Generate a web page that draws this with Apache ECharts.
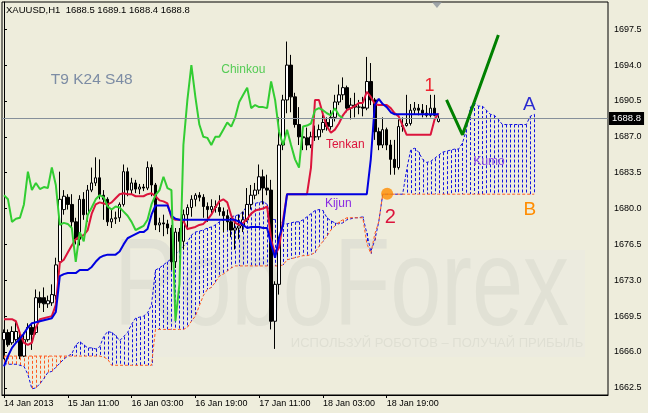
<!DOCTYPE html>
<html><head><meta charset="utf-8">
<script src="https://cdn.jsdelivr.net/npm/echarts@6.0.0/dist/echarts.min.js"></script>
<style>html,body{margin:0;padding:0;background:#EEEDDC}#c{width:648px;height:413px}</style>
</head><body><div id="c"></div>
<script>
// ---------- data ----------
const headerText = 'XAUUSD,H1  1688.5 1689.1 1688.4 1688.8';
const xTickIndex = [0, 16, 32, 48, 64, 80, 96];
const xTickLabels = ['14 Jan 2013', '15 Jan 11:00', '16 Jan 03:00', '16 Jan 19:00', '17 Jan 11:00', '18 Jan 03:00', '18 Jan 19:00'];
const yTickValues = [1662.5, 1666.0, 1669.5, 1673.0, 1676.5, 1680.0, 1683.5, 1687.0, 1690.5, 1694.0, 1697.5];
const bidPrice = 1688.8;

const open = [
1667.2,1667.9,1666.9,1667.2,1667.4,1665.6,1667.2,1668.4,1667.9,1671.3,
1671.3,1670.7,1670.8,1671.5,1674.8,1679.9,1681.1,1680.4,1678.7,1677.0,
1680.9,1679.4,1681.8,1682.5,1683.0,1681.3,1680.9,1678.7,1679.0,1679.1,
1680.4,1683.6,1681.8,1682.5,1681.9,1682.1,1682.0,1684.0,1682.3,1678.4,
1678.6,1678.5,1678.1,1674.8,1677.7,1676.8,1679.4,1680.1,1680.9,1681.3,
1681.1,1680.2,1679.9,1680.2,1680.1,1679.7,1679.3,1678.7,1677.9,1678.1,
1678.3,1678.9,1680.4,1681.3,1681.8,1683.1,1682.0,1681.8,1669.0,1672.6,
1686.2,1690.6,1694.0,1690.9,1688.2,1687.0,1686.9,1686.2,1687.0,1687.0,
1687.7,1688.4,1688.0,1688.9,1690.4,1691.1,1691.8,1689.8,1690.1,1689.9,
1689.9,1689.8,1692.4,1690.6,1687.5,1686.2,1687.7,1686.2,1684.8,1684.0,
1688.0,1688.1,1688.3,1689.6,1689.8,1689.6,1689.3,1689.1,1689.8,1688.5];
const high = [
1668.2,1668.2,1668.5,1668.9,1667.8,1667.9,1668.8,1668.7,1672.1,1671.9,
1672.3,1671.5,1672.6,1675.2,1683.6,1681.8,1681.4,1681.4,1679.1,1681.3,
1681.6,1682.3,1684.0,1685.0,1684.8,1681.8,1681.1,1679.9,1679.7,1680.6,
1684.3,1684.0,1683.0,1682.8,1682.4,1682.4,1684.6,1684.3,1682.5,1679.1,
1679.4,1678.9,1678.4,1678.1,1678.1,1679.9,1680.4,1681.3,1681.5,1681.6,
1681.4,1680.6,1680.9,1680.8,1681.3,1680.1,1679.9,1679.1,1678.9,1679.4,
1679.7,1682.0,1682.3,1682.5,1684.3,1683.8,1683.3,1682.8,1672.9,1688.9,
1691.1,1696.3,1695.0,1691.3,1689.9,1687.7,1687.9,1687.5,1688.1,1688.2,
1689.4,1688.9,1689.6,1691.1,1692.1,1692.8,1692.0,1690.8,1691.3,1690.6,
1690.9,1694.8,1694.2,1690.8,1687.9,1688.9,1687.9,1686.7,1686.7,1688.7,
1688.9,1691.1,1690.2,1690.4,1690.2,1690.2,1690.1,1691.1,1691.1,1689.1];
const low = [
1665.3,1666.5,1666.7,1667.0,1665.3,1665.5,1667.0,1666.2,1667.7,1670.3,
1669.9,1670.3,1670.5,1671.1,1674.2,1679.4,1679.9,1678.1,1676.5,1676.4,
1678.9,1678.7,1681.6,1682.2,1680.9,1678.9,1678.3,1678.1,1678.5,1678.7,
1680.2,1681.2,1681.4,1681.5,1681.4,1681.7,1681.8,1681.2,1677.9,1677.7,
1677.3,1677.5,1674.0,1674.2,1675.8,1676.0,1677.9,1679.2,1680.2,1680.7,
1679.1,1678.7,1679.5,1679.6,1679.3,1677.7,1677.9,1677.2,1676.0,1677.0,
1677.7,1678.7,1679.9,1680.9,1681.4,1680.4,1681.3,1668.2,1666.3,1671.6,
1685.7,1689.3,1689.4,1687.9,1686.2,1685.7,1685.7,1685.9,1686.6,1686.7,
1687.4,1687.6,1687.7,1688.5,1690.1,1690.6,1689.4,1688.7,1688.9,1689.2,
1689.0,1689.6,1690.1,1686.7,1685.7,1685.9,1685.7,1683.3,1683.3,1683.8,
1687.5,1688.0,1688.1,1689.2,1689.1,1688.9,1688.9,1688.9,1689.0,1688.4];
const close = [
1667.9,1666.7,1668.0,1668.0,1665.6,1667.2,1668.4,1667.7,1671.3,1670.8,
1670.7,1671.0,1671.6,1674.5,1680.9,1681.2,1680.4,1678.7,1677.0,1680.9,
1679.4,1681.8,1682.5,1683.0,1681.3,1680.9,1678.7,1679.0,1679.1,1680.4,
1683.6,1681.8,1682.5,1681.9,1682.1,1682.0,1684.0,1682.3,1678.4,1678.6,
1678.5,1678.1,1674.8,1677.7,1676.8,1679.4,1680.1,1680.9,1681.3,1681.1,
1680.2,1679.9,1680.2,1680.1,1679.7,1679.3,1678.7,1677.9,1678.1,1678.3,
1678.9,1680.4,1681.3,1681.8,1683.1,1682.0,1681.8,1669.0,1672.6,1686.2,
1690.6,1694.0,1690.9,1688.2,1687.0,1686.9,1686.2,1687.0,1687.0,1687.7,
1688.4,1688.0,1688.9,1690.4,1691.1,1691.8,1689.8,1690.1,1689.9,1689.9,
1689.8,1692.4,1690.6,1687.5,1686.2,1687.7,1686.2,1684.8,1684.0,1688.0,
1688.1,1688.3,1689.6,1689.8,1689.6,1689.3,1689.1,1689.8,1689.1,1688.8];

const tenkan = [
1669.2,1669.2,1669.2,1669.0,1667.8,1666.9,1666.7,1666.9,1668.4,1669.2,
1669.3,1669.4,1669.5,1670.6,1674.7,1675.0,1675.7,1676.4,1677.0,1677.3,
1677.4,1677.9,1679.5,1680.4,1680.6,1680.5,1680.4,1680.6,1681.0,1681.4,
1681.5,1681.4,1681.4,1681.2,1681.2,1681.2,1681.4,1681.5,1681.2,1680.8,
1680.7,1680.5,1679.1,1678.9,1678.9,1678.8,1678.0,1678.1,1678.2,1678.4,
1678.5,1678.9,1679.4,1680.1,1680.7,1680.9,1680.6,1679.3,1678.6,1678.4,
1678.6,1679.0,1679.5,1679.8,1679.9,1680.0,1680.2,1677.0,1675.5,1676.2,
1678.9,1681.4,1681.4,1681.4,1681.4,1681.4,1681.4,1684.0,1690.6,1690.6,
1689.2,1688.0,1687.4,1687.7,1688.3,1689.1,1689.6,1689.8,1690.0,1690.3,
1690.3,1691.4,1690.9,1690.2,1690.1,1690.1,1690.1,1689.8,1689.3,1689.0,
1688.1,1687.2,1687.2,1687.2,1687.2,1687.2,1687.2,1687.2,1688.7,1689.3];
const kijun = [
1664.6,1665.6,1666.4,1666.9,1667.3,1667.8,1668.4,1668.8,1668.9,1669.0,
1669.1,1669.2,1669.3,1669.9,1673.4,1673.6,1673.7,1673.7,1673.7,1674.0,
1674.0,1674.0,1674.3,1674.8,1675.2,1675.4,1675.5,1675.5,1675.5,1675.8,
1676.5,1677.1,1677.3,1677.5,1677.7,1677.7,1678.0,1679.4,1680.3,1680.3,
1680.3,1680.3,1679.3,1679.0,1678.9,1678.9,1678.9,1678.9,1678.9,1678.9,
1678.9,1678.9,1678.9,1678.9,1678.9,1678.9,1678.9,1678.9,1678.9,1678.7,
1678.4,1678.1,1678.2,1678.2,1678.2,1678.1,1678.1,1676.5,1675.2,1677.2,
1678.4,1681.4,1681.4,1681.4,1681.4,1681.4,1681.4,1681.4,1681.4,1681.4,
1681.4,1681.4,1681.4,1681.4,1681.4,1681.4,1681.4,1681.4,1681.4,1681.4,
1681.4,1681.4,1684.8,1690.1,1690.7,1690.2,1689.9,1689.4,1689.2,1689.2,
1689.2,1689.2,1689.2,1689.2,1689.2,1689.2,1689.2,1689.2,1689.2,1689.2];
const chinkou = [
1681.3,1680.9,1678.7,1679.0,1679.1,1680.4,1683.6,1681.8,1682.5,1681.9,
1682.1,1682.0,1684.0,1682.3,1678.4,1678.6,1678.5,1678.1,1674.8,1677.7,
1676.8,1679.4,1680.1,1680.9,1681.3,1681.1,1680.2,1679.9,1680.2,1680.1,
1679.7,1679.3,1678.7,1677.9,1678.1,1678.3,1678.9,1680.4,1681.3,1681.8,
1683.1,1682.0,1681.8,1669.0,1672.6,1686.2,1690.6,1694.0,1690.9,1688.2,
1687.0,1686.9,1686.2,1687.0,1687.0,1687.7,1688.4,1688.0,1688.9,1690.4,
1691.1,1691.8,1689.8,1690.1,1689.9,1689.9,1689.8,1692.4,1690.6,1687.5,
1686.2,1687.7,1686.2,1684.8,1684.0,1688.0,1688.1,1688.3,1689.6,1689.8,
1689.6,1689.3,1689.1,1689.8,1689.1,1688.8];
const senkouA = [
1664.9,1664.8,1664.8,1664.8,1664.7,1664.6,1663.8,1662.4,1662.5,1662.9,
1663.4,1664.0,1664.1,1664.5,1664.9,1665.3,1665.6,1665.8,1666.7,1667.0,
1666.7,1666.4,1666.4,1666.3,1666.5,1667.5,1668.0,1667.9,1667.6,1667.1,
1667.5,1667.9,1668.7,1669.3,1669.4,1669.5,1669.8,1670.6,1674.0,1674.2,
1674.5,1674.8,1675.1,1675.5,1675.9,1676.3,1676.7,1677.4,1677.7,1677.8,
1677.9,1678.1,1678.2,1678.4,1678.7,1678.9,1679.0,1679.2,1679.3,1679.4,
1679.7,1680.3,1680.6,1680.5,1680.6,1680.7,1680.4,1679.0,1678.9,1678.9,
1678.5,1678.5,1678.6,1678.7,1678.7,1678.9,1679.2,1679.5,1679.8,1679.9,
1679.8,1679.1,1678.8,1678.6,1678.5,1678.6,1678.9,1679.0,1679.1,1679.1,
1679.2,1677.6,1675.8,1676.9,1678.7,1681.4,1681.4,1681.4,1681.4,1681.4,
1681.4,1683.8,1685.7,1685.9,1685.5,1684.8,1684.5,1684.6,1684.9,1685.2,
1685.5,1685.6,1685.7,1685.8,1685.8,1686.4,1687.7,1689.9,1690.3,1690.0,
1690.0,1689.6,1689.2,1689.1,1688.7,1688.2,1688.2,1688.2,1688.2,1688.2,
1688.2,1688.2,1689.0,1689.2];
const senkouB = [
1665.6,1665.6,1665.6,1665.6,1665.6,1665.6,1665.6,1665.6,1665.6,1665.6,
1665.6,1665.6,1665.6,1665.6,1665.6,1665.6,1665.6,1665.6,1665.6,1665.6,
1665.6,1665.6,1665.6,1665.6,1665.6,1665.5,1665.3,1664.7,1664.7,1664.7,
1664.7,1664.7,1664.7,1664.7,1664.7,1664.7,1664.7,1664.7,1668.2,1668.2,
1668.2,1668.2,1668.2,1668.2,1668.2,1668.2,1668.4,1669.0,1669.5,1670.5,
1671.5,1672.1,1672.3,1672.8,1673.4,1673.6,1673.9,1674.2,1674.4,1674.4,
1674.4,1674.4,1674.4,1674.4,1674.4,1674.4,1674.4,1674.4,1674.4,1674.4,
1674.5,1675.0,1675.1,1675.2,1675.3,1675.4,1675.4,1675.5,1675.7,1676.3,
1676.8,1677.3,1677.9,1678.3,1678.7,1678.9,1679.1,1679.1,1679.1,1679.1,
1679.1,1676.6,1675.6,1677.5,1678.7,1681.4,1681.4,1681.4,1681.4,1681.4,
1681.4,1681.4,1681.4,1681.4,1681.4,1681.4,1681.4,1681.4,1681.4,1681.4,
1681.4,1681.4,1681.4,1681.4,1681.4,1681.4,1681.4,1681.4,1681.4,1681.4,
1681.4,1681.4,1681.4,1681.4,1681.4,1681.4,1681.4,1681.4,1681.4,1681.4,
1681.4,1681.4,1681.4,1681.4];

// hand-drawn forecast (bar index, price)
const forecastIdx = [111, 115, 124];
const forecastPrice = [1690.6, 1687.2, 1696.95];
// marked point "2"
const markIdx = 96.1, markPrice = 1681.45;

// ---------- layout / style ----------
const Y_MIN = 1661.80, Y_MAX = 1700.16;
const N_CAT = 152;
const BG = '#EEEDDC';
const FONT = 'Liberation Sans';
const notes = [
  {t: 'T9 K24 S48', x: 11.75, y: 1692.56, c: '#7C8CA4', s: 15.5, a: 'left'},
  {t: 'Chinkou', x: 54.5, y: 1693.58, c: '#55CC55', s: 12, a: 'left'},
  {t: 'Tenkan', x: 80.75, y: 1686.22, c: '#DC143C', s: 12, a: 'left'},
  {t: 'Kijun', x: 80.5, y: 1680.52, c: '#8A2BE2', s: 12, a: 'left'},
  {t: 'Kumo', x: 117.75, y: 1684.56, c: '#8A4AE2', s: 12, a: 'left'},
  {t: '1', x: 106.75, y: 1691.92, c: '#EE2430', s: 18, a: 'center'},
  {t: '2', x: 96.9, y: 1679.11, c: '#DC143C', s: 20, a: 'center'},
  {t: 'A', x: 131.75, y: 1690.12, c: '#2A2AD0', s: 19, a: 'center'},
  {t: 'B', x: 131.9, y: 1679.89, c: '#FF8C00', s: 19, a: 'center'}
];

const cats = [];
for (let i = 0; i < N_CAT; i++) cats.push(String(i));
const tickMap = {};
xTickIndex.forEach((v, k) => { tickMap[v] = xTickLabels[k]; });

const chart = echarts.init(document.getElementById('c'), null, {renderer: 'canvas'});
chart.setOption({
  animation: false,
  backgroundColor: BG,
  textStyle: {fontFamily: FONT},
  title: {text: headerText, left: 6, top: 5, padding: 0,
    textStyle: {fontFamily: FONT, fontSize: 9.5, fontWeight: 'normal', color: '#000'}},
  grid: {left: 2, right: 40, top: 2, bottom: 18, show: true, borderColor: '#000', borderWidth: 1, backgroundColor: 'transparent'},
  graphic: [
    {type: 'rect', z: 0, silent: true, shape: {x: 50, y: 250, width: 535, height: 107}, style: {fill: '#ECEBDF'}},
    {type: 'text', z: 0, silent: true, x: 114, y: 291, scaleX: 0.736,
      style: {text: 'RoboForex', fontSize: 125, fontFamily: FONT, fill: '#E1E1D5', align: 'left', verticalAlign: 'middle'}},
    {type: 'text', z: 0, silent: true, x: 437, y: 343,
      style: {text: 'ИСПОЛЬЗУЙ РОБОТОВ – ПОЛУЧАЙ ПРИБЫЛЬ', fontSize: 13, fontFamily: FONT, fill: '#DFDFD3', align: 'center', verticalAlign: 'middle'}}
  ],
  xAxis: [
    {type: 'category', data: cats, boundaryGap: true,
      axisLine: {show: true, lineStyle: {color: '#000'}},
      axisTick: {show: true, alignWithLabel: true, length: 3, interval: (i) => tickMap[i] !== undefined, lineStyle: {color: '#000'}},
      axisLabel: {interval: (i) => tickMap[i] !== undefined, formatter: (v, i) => tickMap[i] || '',
        align: 'left', margin: 4, fontSize: 9, fontFamily: FONT, color: '#000'},
      splitLine: {show: false}},
    {type: 'value', min: -0.5, max: N_CAT - 0.5, show: false, gridIndex: 0}
  ],
  yAxis: {type: 'value', position: 'right', min: Y_MIN, max: Y_MAX,
    axisLine: {show: true, lineStyle: {color: '#000'}},
    axisTick: {show: true, customValues: yTickValues, length: 3, lineStyle: {color: '#000'}},
    axisLabel: {customValues: yTickValues, formatter: (v) => v.toFixed(1), margin: 6, fontSize: 9, fontFamily: FONT, color: '#000'},
    splitLine: {show: false}},
  series: [
    {type: 'custom', name: 'kumo', z: 1, silent: true, xAxisIndex: 0,
      data: senkouA.map((a, i) => [i, a, senkouB[i]]),
      encode: {x: 0, y: [1, 2]},
      renderItem: (params, api) => {
        const i = api.value(0), a = api.value(1), b = api.value(2);
        const pa = api.coord([i, a]), pb = api.coord([i, b]);
        const x = Math.round(pa[0]) + 0.5;
        return {type: 'line', shape: {x1: x, y1: pa[1], x2: x, y2: pb[1]},
          style: {stroke: a >= b ? '#1212E0' : '#FF5A1F', lineWidth: 1, lineDash: [3, 2]}};
      }},
    {type: 'line', name: 'Senkou A', z: 2, data: senkouA, showSymbol: false, symbol: 'none', silent: true,
      lineStyle: {color: '#1212E0', width: 1, type: [3, 2]}},
    {type: 'line', name: 'Senkou B', z: 2, data: senkouB, showSymbol: false, symbol: 'none', silent: true,
      lineStyle: {color: '#FF5A1F', width: 1, type: [3, 2]}},
    {type: 'candlestick', name: 'XAUUSD', z: 3, barWidth: 3, silent: true,
      data: open.map((o, i) => [o, close[i], low[i], high[i]]),
      itemStyle: {color: '#FFFFFF', color0: '#000000', borderColor: '#000000', borderColor0: '#000000', borderColorDoji: '#000000', borderWidth: 1},
      markLine: {silent: true, symbol: 'none', animation: false,
        data: [{yAxis: bidPrice}],
        lineStyle: {color: '#86909A', width: 1, type: 'solid'},
        label: {show: true, position: 'end', formatter: bidPrice.toFixed(1), distance: 1,
          backgroundColor: '#000', color: '#fff', padding: [2, 3, 1, 3], fontSize: 9.5, fontFamily: FONT}}},
    {type: 'line', name: 'Tenkan', z: 4, data: tenkan, showSymbol: false, symbol: 'none', silent: true,
      lineStyle: {color: '#DC143C', width: 2}},
    {type: 'line', name: 'Kijun', z: 4, data: kijun, showSymbol: false, symbol: 'none', silent: true,
      lineStyle: {color: '#0000E0', width: 2}},
    {type: 'line', name: 'Chinkou', z: 4, data: chinkou, showSymbol: false, symbol: 'none', silent: true,
      lineStyle: {color: '#32CD32', width: 2}},
    {type: 'line', name: 'forecast', z: 5, xAxisIndex: 1, silent: true, showSymbol: false, symbol: 'none',
      data: forecastIdx.map((x, k) => [x, forecastPrice[k]]),
      lineStyle: {color: '#008000', width: 3}},
    {type: 'scatter', name: 'mark2', z: 5, xAxisIndex: 1, silent: true, clip: false,
      data: [[markIdx, markPrice]], symbolSize: 12, itemStyle: {color: '#FF8C00'}},
    {type: 'scatter', name: 'shift', z: 5, xAxisIndex: 1, silent: true, clip: false,
      data: [[108.6, Y_MAX]], symbol: 'triangle', symbolRotate: 180, symbolSize: [10, 6], symbolOffset: [0, 3],
      itemStyle: {color: '#8C949C'}},
    {type: 'custom', name: 'notes', z: 6, xAxisIndex: 1, silent: true, clip: false,
      data: notes.map((n, k) => [n.x, n.y, k]),
      encode: {x: 0, y: 1},
      renderItem: (params, api) => {
        const n = notes[api.value(2)];
        const p = api.coord([api.value(0), api.value(1)]);
        return {type: 'text', x: p[0], y: p[1],
          style: {text: n.t, fill: n.c, fontSize: n.s, fontFamily: FONT, align: n.a, verticalAlign: 'middle'}};
      }}
  ]
});
</script></body></html>
